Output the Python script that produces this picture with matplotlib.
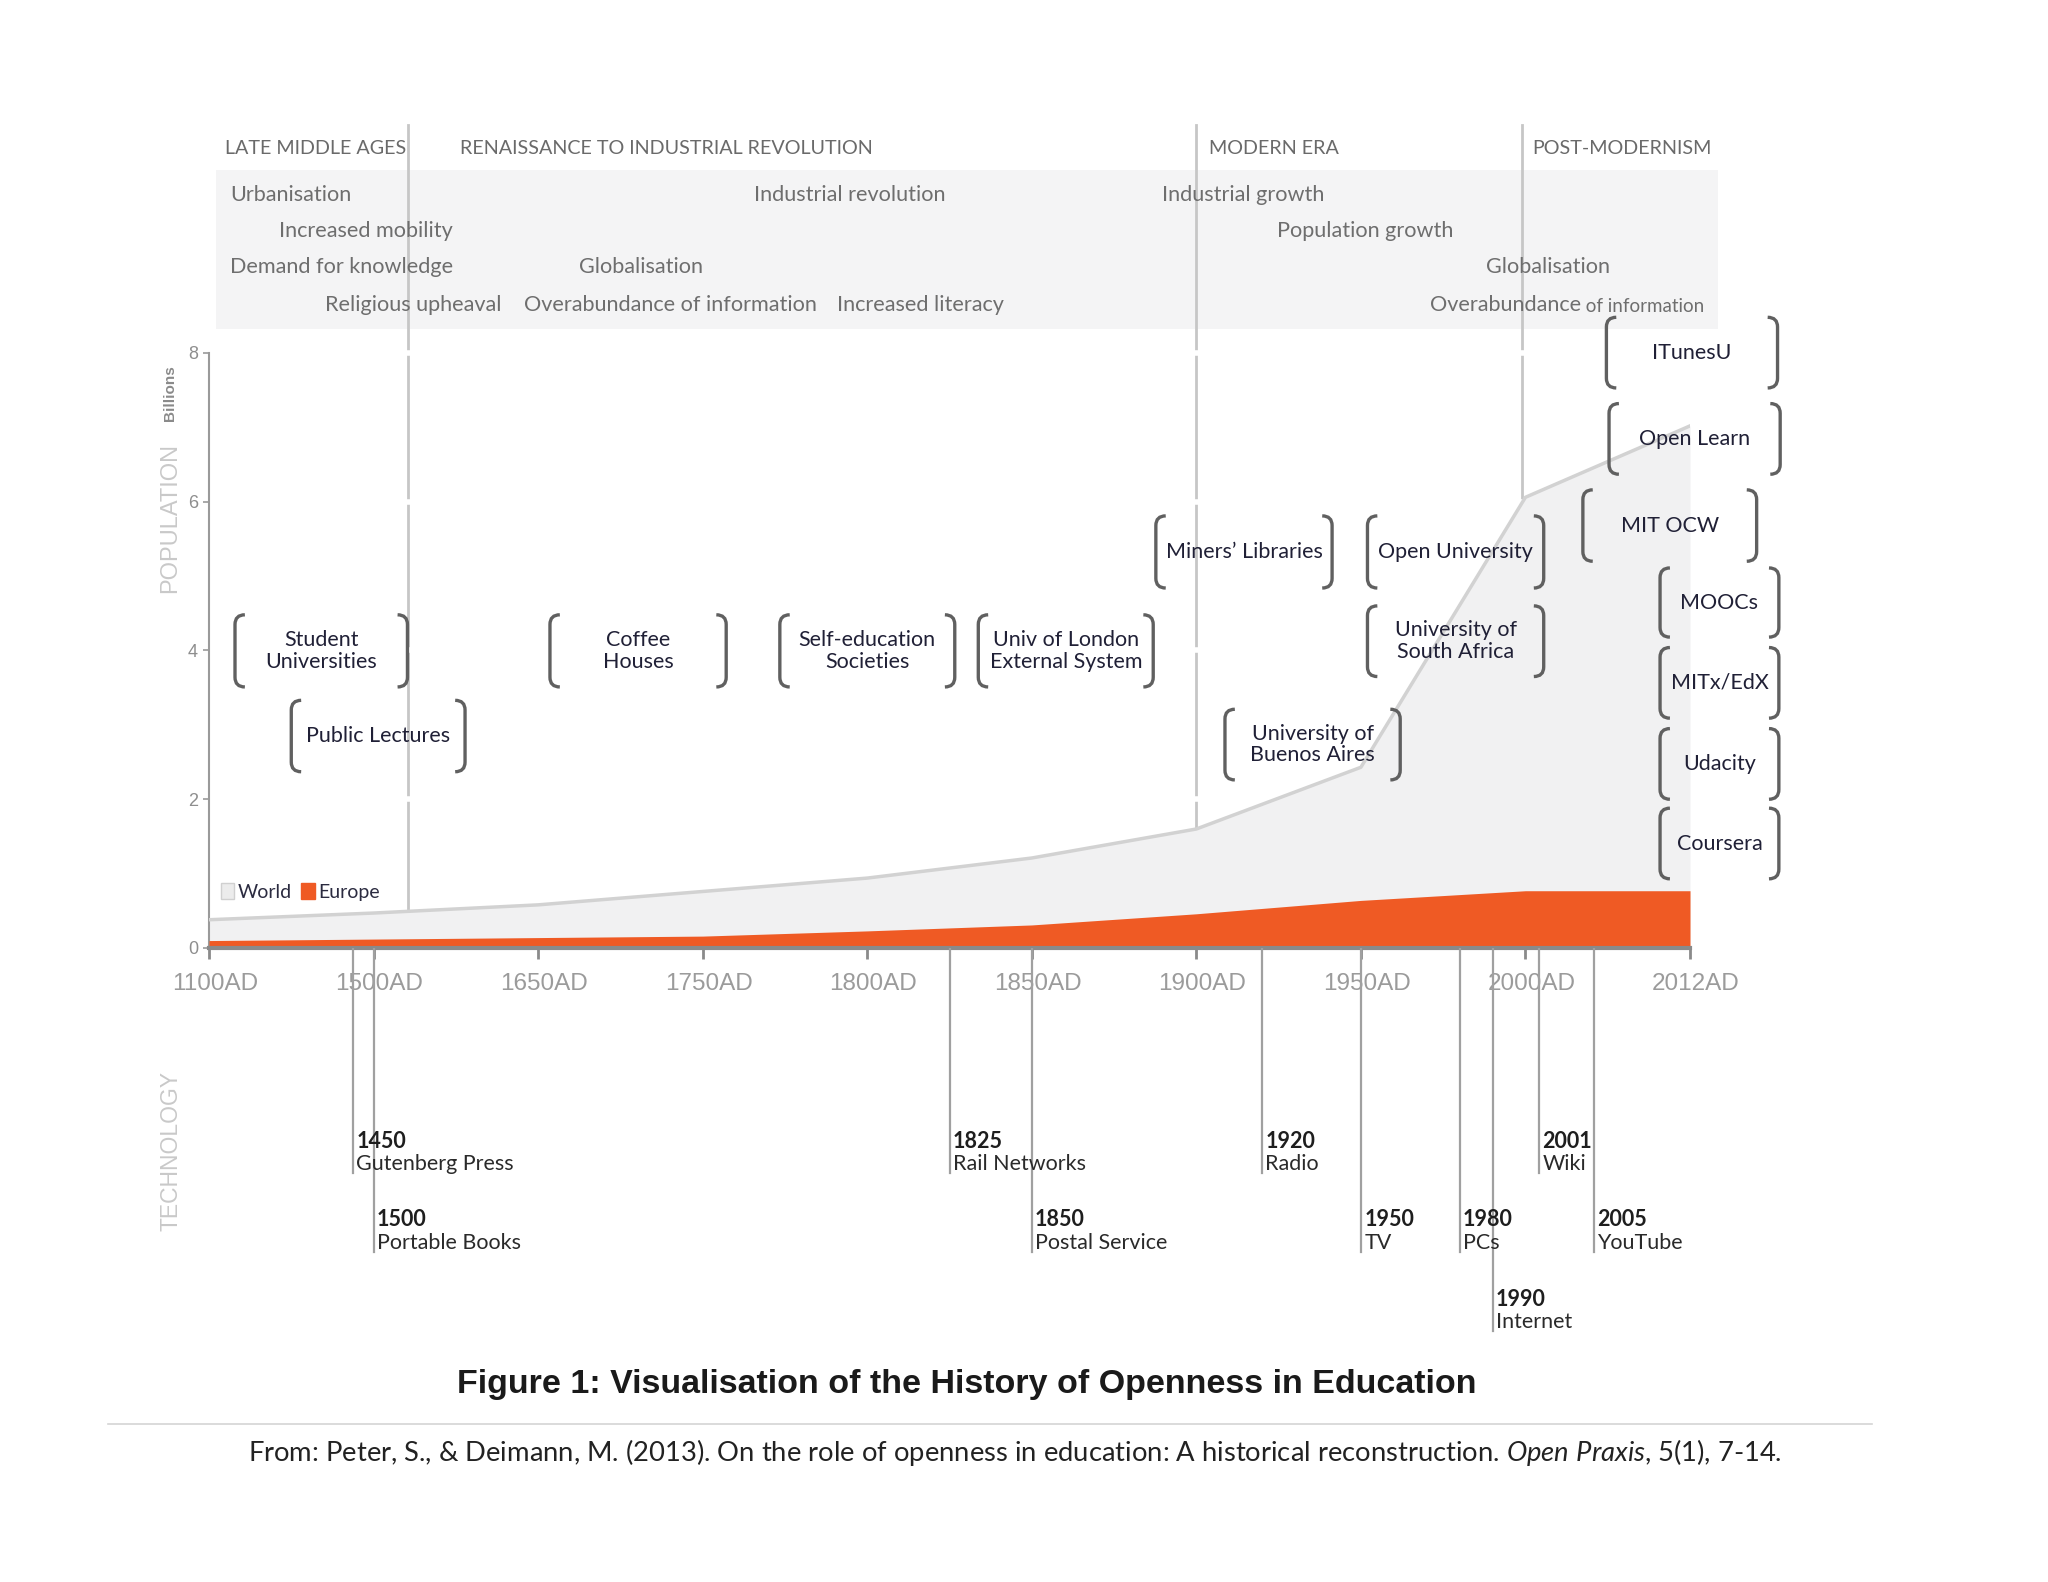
import numpy as np
import matplotlib
matplotlib.use('Agg')
import matplotlib.pyplot as plt
from matplotlib.path import Path
from matplotlib.patches import PathPatch, Rectangle, Patch
from matplotlib.lines import Line2D
import matplotlib.transforms as mtransforms

plt.rcParams['font.family'] = ['Lato', 'DejaVu Sans']
plt.rcParams['mathtext.fontset'] = 'custom'
plt.rcParams['mathtext.rm'] = 'Lato'
plt.rcParams['mathtext.it'] = 'Lato:italic'

# population (billions) at each axis tick
tick_labels = ['1100AD', '1500AD', '1650AD', '1750AD', '1800AD',
               '1850AD', '1900AD', '1950AD', '2000AD', '2012AD']
tick_years = [1100, 1500, 1650, 1750, 1800, 1850, 1900, 1950, 2000, 2012]
world = [0.38, 0.47, 0.58, 0.76, 0.94, 1.21, 1.60, 2.43, 6.06, 7.02]
europe = [0.10, 0.12, 0.14, 0.16, 0.23, 0.31, 0.46, 0.64, 0.77, 0.77]

# eras
era_names = ['LATE MIDDLE AGES', 'RENAISSANCE TO INDUSTRIAL REVOLUTION',
             'MODERN ERA', 'POST-MODERNISM']
era_bounds = [1531, 1900, 1999]

# technology milestones
tech_years = [1450, 1500, 1825, 1850, 1920, 1950, 1980, 1990, 2001, 2005]
tech_names = ['Gutenberg Press', 'Portable Books', 'Rail Networks', 'Postal Service',
              'Radio', 'TV', 'PCs', 'Internet', 'Wiki', 'YouTube']
tech_tier = [0, 1, 0, 1, 0, 1, 1, 2, 0, 1]

# social drivers in the grey band: (text, x, y)
drivers = [
    ('Urbanisation', 0.127, 10.13),
    ('Increased mobility', 0.428, 9.64),
    ('Demand for knowledge', 0.127, 9.16),
    ('Religious upheaval', 0.706, 8.64),
    ('Globalisation', 2.246, 9.16),
    ('Overabundance of information', 1.913, 8.64),
    ('Industrial revolution', 3.310, 10.13),
    ('Increased literacy', 3.818, 8.64),
    ('Industrial growth', 5.794, 10.13),
    ('Population growth', 6.492, 9.64),
    ('Globalisation', 7.763, 9.16),
]
# last driver is set with a smaller tail, as in the original
last_driver = ('Overabundance', ' of information', 7.421, 8.64)

# open education initiatives: (text, left, right, bottom, top)
initiatives = [
    ('Student\nUniversities', 0.158, 1.206, 3.51, 4.48),
    ('Public Lectures', 0.500, 1.556, 2.37, 3.33),
    ('Coffee\nHouses', 2.072, 3.143, 3.51, 4.48),
    ('Self-education\nSocieties', 3.469, 4.532, 3.51, 4.48),
    ('Univ of London\nExternal System', 4.675, 5.738, 3.51, 4.48),
    ('Miners\u2019 Libraries', 5.754, 6.825, 4.84, 5.81),
    ('Open University', 7.040, 8.111, 4.84, 5.81),
    ('University of\nSouth Africa', 7.040, 8.111, 3.65, 4.60),
    ('University of\nBuenos Aires', 6.174, 7.239, 2.26, 3.21),
    ('ITunesU', 8.492, 9.532, 7.53, 8.48),
    ('Open Learn', 8.508, 9.548, 6.37, 7.32),
    ('MIT OCW', 8.349, 9.405, 5.20, 6.16),
    ('MOOCs', 8.818, 9.540, 4.18, 5.11),
    ('MITx/EdX', 8.818, 9.540, 3.09, 4.04),
    ('Udacity', 8.818, 9.540, 2.00, 2.95),
    ('Coursera', 8.818, 9.540, 0.93, 1.88),
]

W, H = 2048, 1582
fig = plt.figure(figsize=(W / 100, H / 100), dpi=100)
fig.patch.set_facecolor('white')

ax_left, ax_right = 209 / W, 1690 / W
ax = fig.add_axes([ax_left, 1 - 948 / H, ax_right - ax_left, (948 - 353) / H])
ax.patch.set_visible(False)

xi = np.arange(len(tick_years))


def year_pos(y):
    return np.interp(y, tick_years, xi)


# population areas
ax.fill_between(xi, 0, world, color='#f1f1f2', lw=0, zorder=2)
ax.plot(xi, world, color='#d2d2d2', lw=2.5, zorder=3)
ax.fill_between(xi, 0, europe, color='#ef5a24', lw=0, zorder=4)

# grey band with drivers
ax.add_patch(Rectangle((0.04, 8.32), 9.13, 2.14, fc='#f4f4f5', ec='none',
                       zorder=0, clip_on=False))
for txt, x, y in drivers:
    ax.text(x, y, txt, fontsize=15.6, color='#6e6e6e', ha='left', va='center',
            zorder=2, clip_on=False)
head, tail, x, y = last_driver
t_head = ax.text(x, y, head, fontsize=15.6, color='#6e6e6e', ha='left',
                 va='center', zorder=2, clip_on=False)
ax.annotate(tail, xy=(1, 0.45), xycoords=t_head, fontsize=13.5, color='#6e6e6e',
            ha='left', va='center', zorder=2, annotation_clip=False)

# era dividers and headers
era_x = [year_pos(b) for b in era_bounds]
for b in era_x:
    ax.plot([b, b], [np.interp(b, xi, world), 11.06], color='#c6c6c6', lw=2,
            zorder=1, clip_on=False)
for yg in [2, 4, 6, 8]:
    ax.axhline(yg, color='white', lw=4, zorder=1.5, clip_on=False)
header_x = [0.095, 1.524, 6.080, 8.040]
for name, x in zip(era_names, header_x):
    ax.text(x, 10.75, name, fontsize=14.2, color='#6a6a6a', ha='left',
            va='center', clip_on=False)


def bracket_box(x0, x1, y0, y1):
    hx, hy = 0.06, 0.13
    for xe, d in ((x0, 1), (x1, -1)):
        verts = [(xe + d * hx, y1), (xe, y1), (xe, y1 - hy),
                 (xe, y0 + hy), (xe, y0), (xe + d * hx, y0)]
        codes = [Path.MOVETO, Path.CURVE3, Path.CURVE3,
                 Path.LINETO, Path.CURVE3, Path.CURVE3]
        ax.add_patch(PathPatch(Path(verts, codes), fill=False, ec='#606060',
                               lw=2.4, clip_on=False, zorder=5))


for txt, x0, x1, y0, y1 in initiatives:
    bracket_box(x0, x1, y0, y1)
    ax.text((x0 + x1) / 2, (y0 + y1) / 2, txt, fontsize=15.5, color='#202036',
            ha='center', va='center', linespacing=1.1, zorder=6, clip_on=False)

# axes styling
ax.set_xlim(0, 9)
ax.set_ylim(0, 8)
ax.set_xticks(xi)
ax.set_xticklabels(tick_labels, fontsize=17.5, color='#9b9b9b',
                   family='Liberation Sans')
ax.set_yticks([0, 2, 4, 6, 8])
ax.set_yticklabels(['0', '2', '4', '6', '8'], fontsize=13, color='#8e8e8e',
                   family='Liberation Sans')
ax.tick_params(axis='x', direction='out', length=8, width=2, color='#8a8a8a', pad=10)
ax.tick_params(axis='y', direction='out', length=4, width=1.2, color='#999999', pad=4)
shift = mtransforms.ScaledTranslation(6 / 100, 0, fig.dpi_scale_trans)
for lab in ax.get_xticklabels():
    lab.set_transform(lab.get_transform() + shift)
for s in ['top', 'right']:
    ax.spines[s].set_visible(False)
ax.spines['bottom'].set_color('#8a8a8a')
ax.spines['bottom'].set_linewidth(3)
ax.spines['bottom'].set_zorder(7)
ax.spines['left'].set_color('#9a9a9a')
ax.spines['left'].set_linewidth(1.5)

ax.text(-0.237, 5.78, 'POPULATION', rotation=90, fontsize=17, color='#c9c9c9',
        family='Liberation Sans', ha='center', va='center', clip_on=False)
ax.text(-0.237, 7.46, 'Billions', rotation=90, fontsize=11, color='#8a8a8a',
        weight='bold', family='Liberation Sans', ha='center', va='center',
        clip_on=False)

handles = [Patch(fc='#ececec', ec='#d0d0d0', label='World'),
           Patch(fc='#ef5a24', ec='#ef5a24', label='Europe')]
leg = ax.legend(handles=handles, loc='center left', bbox_to_anchor=(0.008, 0.094),
                frameon=False, ncol=2, fontsize=14, handlelength=0.7,
                handleheight=0.9, handletextpad=0.15, columnspacing=0.5,
                borderpad=0, borderaxespad=0)
for t in leg.get_texts():
    t.set_color('#2b2b40')

# technology timeline
ax_t = fig.add_axes([ax_left, 1 - 1340 / H, ax_right - ax_left, 392 / H])
ax_t.set_xlim(0, 9)
ax_t.set_ylim(392, 0)
ax_t.axis('off')
tier_step = 79
for yr, name, tier in zip(tech_years, tech_names, tech_tier):
    x = year_pos(yr)
    bottom = 225 + tier * tier_step
    ax_t.plot([x, x], [0, bottom], color='#a0a0a0', lw=1.6)
    ax_t.text(x + 0.02, 193 + tier * tier_step, str(yr), fontsize=15.5,
              weight='bold', color='#1e1e1e', ha='left', va='center')
    ax_t.text(x + 0.02, 216 + tier * tier_step, name, fontsize=15.5,
              color='#2a2a2a', ha='left', va='center')
ax_t.text(-0.23, 203, 'TECHNOLOGY', rotation=90, fontsize=16.5, color='#c9c9c9',
          family='Liberation Sans', ha='center', va='center', clip_on=False)

# caption
fig.text(967 / W, 1 - 1385 / H,
         'Figure 1: Visualisation of the History of Openness in Education',
         ha='center', va='center', fontsize=24.5, weight='bold',
         family='Liberation Sans', color='#1a1a1a')
fig.add_artist(Line2D([108 / W, 1872 / W], [1 - 1424 / H] * 2,
                      color='#d4d4d4', lw=1.2))
fig.text(1015 / W, 1 - 1452 / H,
         r'From: Peter, S., & Deimann, M. (2013). On the role of openness in '
         r'education: A historical reconstruction. $\mathit{Open\ Praxis}$, '
         r'$\mathit{5}$(1), 7-14.',
         ha='center', va='center', fontsize=19.7, color='#222222')

fig.savefig('out.png', dpi=100)
